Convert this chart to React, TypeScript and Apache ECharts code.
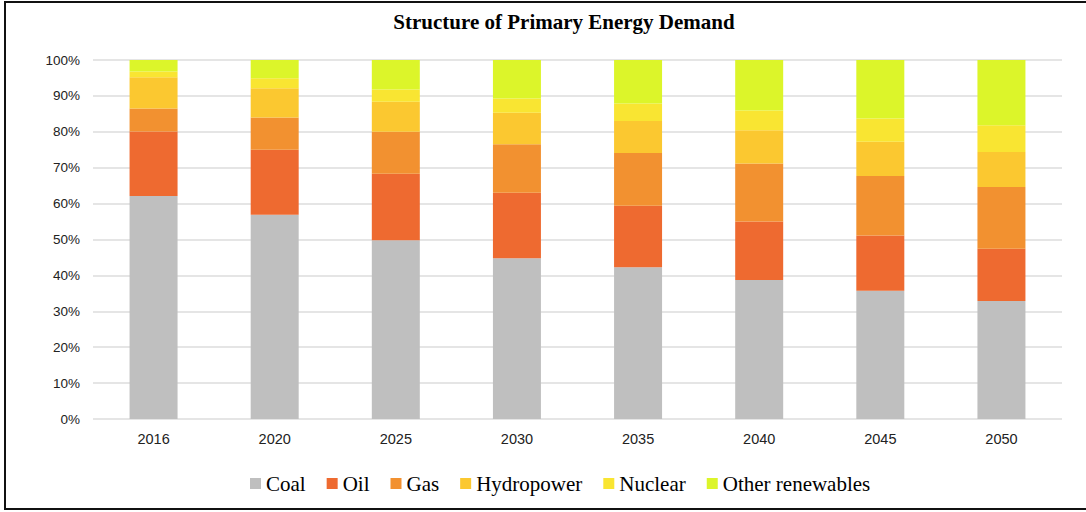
import React, { useEffect, useRef } from "react";
import * as echarts from "echarts";

const years = ["2016", "2020", "2025", "2030", "2035", "2040", "2045", "2050"];
const coal = [62.1, 56.9, 49.8, 44.8, 42.3, 38.7, 35.7, 32.9];
const oil = [18.0, 18.1, 18.5, 18.2, 17.1, 16.3, 15.4, 14.5];
const gas = [6.4, 9.0, 11.7, 13.5, 14.7, 16.2, 16.6, 17.2];
const hydropower = [8.7, 8.1, 8.4, 8.8, 8.9, 9.2, 9.5, 9.8];
const nuclear = [1.6, 2.8, 3.4, 4.0, 4.9, 5.5, 6.5, 7.4];
const otherRenewables = [3.2, 5.1, 8.2, 10.7, 12.1, 14.1, 16.3, 18.2];

const seriesDefs = [
  { name: "Coal", data: coal, color: "#bfbfbf" },
  { name: "Oil", data: oil, color: "#ee6a30" },
  { name: "Gas", data: gas, color: "#f29130" },
  { name: "Hydropower", data: hydropower, color: "#fbc830" },
  { name: "Nuclear", data: nuclear, color: "#f9e532" },
  { name: "Other renewables", data: otherRenewables, color: "#dcf52a" },
];

export default function App() {
  const ref = useRef<HTMLDivElement>(null);
  useEffect(() => {
    if (!ref.current) return;
    const chart = echarts.init(ref.current, null, { renderer: "svg" });
    chart.setOption({
      animation: false,
      backgroundColor: "#ffffff",
      title: {
        text: "Structure of Primary Energy Demand",
        left: 559,
        textAlign: "center",
        top: 6,
        textStyle: {
          fontFamily: "Liberation Serif",
          fontWeight: "bold",
          fontSize: 21,
          color: "#000",
        },
      },
      legend: {
        bottom: 13,
        left: 245,
        width: 900,
        itemWidth: 11,
        itemHeight: 11,
        itemGap: 21,
        icon: "rect",
        textStyle: {
          fontFamily: "Liberation Serif",
          fontSize: 21,
          color: "#000",
        },
        data: seriesDefs.map((s) => s.name),
      },
      grid: {
        left: 93,
        right: 24,
        top: 60,
        bottom: 93,
        containLabel: false,
      },
      xAxis: {
        type: "category",
        data: years,
        axisLine: { show: false },
        axisTick: { show: false },
        axisLabel: {
          color: "#222",
          fontFamily: "Liberation Sans",
          fontSize: 14.5,
          margin: 12,
        },
      },
      yAxis: {
        type: "value",
        min: 0,
        max: 100,
        interval: 10,
        axisLine: { show: false },
        axisTick: { show: false },
        splitLine: { lineStyle: { color: "#dcdcdc", width: 1.5 } },
        axisLabel: {
          formatter: "{value}%",
          color: "#222",
          fontFamily: "Liberation Sans",
          fontSize: 13.5,
          margin: 13,
        },
      },
      series: seriesDefs.map((s) => ({
        name: s.name,
        type: "bar",
        stack: "total",
        barWidth: 48,
        data: s.data,
        itemStyle: { color: s.color },
      })),
    });
    return () => chart.dispose();
  }, []);

  return (
    <div
      style={{
        position: "fixed",
        left: 0,
        top: 0,
        width: 1086,
        height: 512,
        background: "#fff",
      }}
    >
      <div ref={ref} style={{ width: 1086, height: 512 }} />
      <div
        style={{
          position: "absolute",
          left: 4,
          top: 1,
          width: 1090,
          height: 509,
          border: "2px solid #111",
          boxSizing: "border-box",
          pointerEvents: "none",
        }}
      />
    </div>
  );
}
